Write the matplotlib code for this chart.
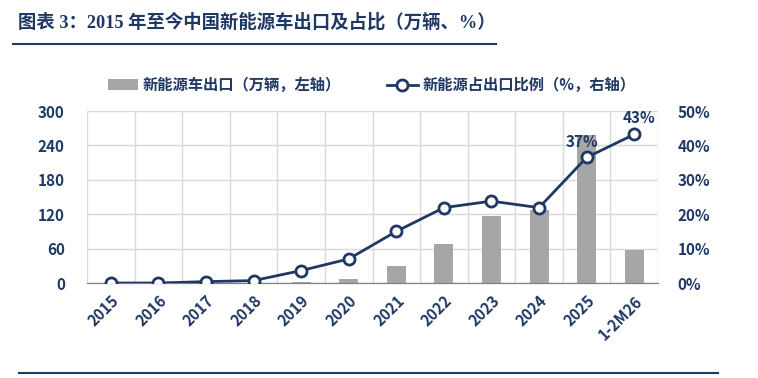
import numpy as np
import matplotlib.pyplot as plt
from matplotlib.ticker import FuncFormatter

plt.rcParams["font.family"] = ["Noto Sans CJK SC", "DejaVu Sans"]

NAVY = "#1F3864"
BAR = "#A6A6A6"
GRID = "#D9D9D9"

categories = ["2015", "2016", "2017", "2018", "2019", "2020", "2021",
              "2022", "2023", "2024", "2025", "1-2M26"]
exports = [0, 0, 0.3, 0.5, 2.5, 7, 30, 68, 116, 127, 258, 58]          # 万辆
share = [0, 0, 0.4, 0.7, 3.6, 7.0, 15.0, 21.9, 23.8, 21.9, 36.5, 43.2]  # %

fig = plt.figure(figsize=(7.58, 3.78), dpi=100)
ax = fig.add_axes([87 / 758, 1 - 283 / 378, 571 / 758, 172 / 378])
ax2 = ax.twinx()

x = np.arange(len(categories))
ax.bar(x, exports, width=0.4, color=BAR, zorder=2, label="新能源车出口（万辆，左轴）")
ax2.plot(x, share, "-o", color=NAVY, lw=2, markersize=8, markerfacecolor="white",
         markeredgecolor=NAVY, markeredgewidth=2, zorder=3,
         label="新能源占出口比例（%，右轴）")

ax.set_xlim(-0.5, len(categories) - 0.5)
ax.set_ylim(0, 300)
ax.set_yticks(range(0, 301, 60))
ax2.set_ylim(0, 50)
ax2.set_yticks(range(0, 51, 10))
ax2.yaxis.set_major_formatter(FuncFormatter(lambda v, p: f"{v:.0f}%"))

# grid: vertical lines at category boundaries, horizontal at ticks
ax.set_xticks(x)
ax.set_xticks(np.arange(-0.5, len(categories), 1), minor=True)
ax.grid(which="minor", axis="x", color=GRID, lw=1, zorder=0)
ax.grid(which="major", axis="y", color=GRID, lw=1, zorder=0)
ax.tick_params(which="both", length=0)
ax2.tick_params(length=0)

tick_font = dict(fontsize=11, fontweight="bold", color=NAVY)
ax.set_xticklabels(categories, rotation=45, ha="right", rotation_mode="anchor", **tick_font)
ax.tick_params(axis="x", pad=7)
for lbl in ax.get_yticklabels():
    lbl.set(**tick_font)
for lbl in ax2.get_yticklabels():
    lbl.set(**tick_font)
ax.tick_params(axis="y", pad=16)
ax2.tick_params(axis="y", pad=14)

for a in (ax, ax2):
    for s in ["top", "left", "right"]:
        a.spines[s].set_visible(False)
    a.spines["bottom"].set_color("#808080")
ax.set_axisbelow(True)

# value labels on last two points
ax2.text(x[-2] - 0.1, share[-2] + 2.3, "37%", ha="center", va="bottom", **tick_font)
ax2.text(x[-1] + 0.1, share[-1] + 2.3, "43%", ha="center", va="bottom", **tick_font)

# legend
h1, l1 = ax.get_legend_handles_labels()
h2, l2 = ax2.get_legend_handles_labels()
fig.legend(h1 + h2, l1 + l2, loc="center", bbox_to_anchor=(0.49, 1 - 85 / 378),
           ncol=2, frameon=False, columnspacing=3.0, handlelength=2.0, handletextpad=0.3,
           prop=dict(size=11, weight="bold"), labelcolor=NAVY)

# title and rules
fig.text(18 / 758, 1 - 22 / 378, "图表 3：2015 年至今中国新能源车出口及占比（万辆、%）",
         fontsize=13.2, fontweight="bold", color=NAVY, va="center", ha="left",
         family=["Liberation Serif", "Noto Sans CJK SC"])
fig.add_artist(plt.Line2D([13 / 758, 496 / 758], [1 - 44 / 378] * 2, color=NAVY, lw=1.5))
fig.add_artist(plt.Line2D([19 / 758, 718 / 758], [1 - 373 / 378] * 2, color=NAVY, lw=1.5))

fig.savefig("out.png", dpi=100)
